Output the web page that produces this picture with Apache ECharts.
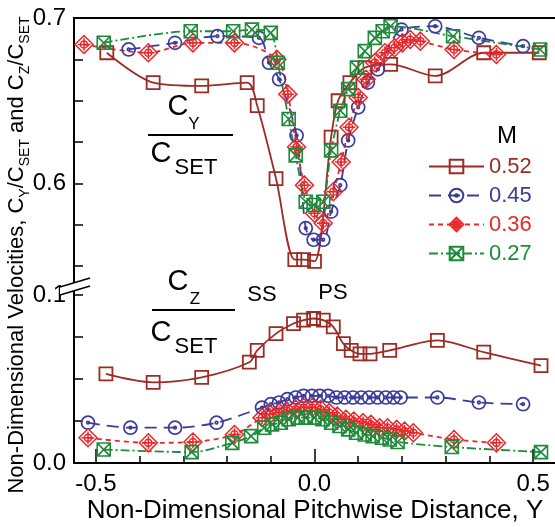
<!DOCTYPE html>
<html><head><meta charset="utf-8">
<script src="https://cdn.jsdelivr.net/npm/echarts@6/dist/echarts.min.js"></script>
<style>html,body{margin:0;padding:0;background:#fff}#c{width:555px;height:527px}</style>
</head><body><div id="c"></div>
<script>
// ---- data ----
const machLabels = ['0.52', '0.45', '0.36', '0.27'];

// Cy/CSET (upper panel)
const cyX_052 = [-0.475, -0.369, -0.258, -0.154, -0.131, -0.088, -0.045, -0.025, 0.000, 0.038, 0.054, 0.081, 0.115, 0.174, 0.276, 0.387, 0.514];
const cyY_052 = [0.679, 0.661, 0.659, 0.661, 0.647, 0.603, 0.554, 0.554, 0.553, 0.628, 0.650, 0.661, 0.670, 0.672, 0.665, 0.679, 0.679];

const cyX_045 = [-0.425, -0.319, -0.222, -0.127, -0.104, -0.081, -0.041, -0.020, -0.002, 0.020, 0.038, 0.059, 0.077, 0.100, 0.122, 0.145, 0.199, 0.276, 0.376, 0.477];
const cyY_045 = [0.681, 0.685, 0.689, 0.688, 0.673, 0.663, 0.629, 0.573, 0.566, 0.566, 0.583, 0.599, 0.626, 0.646, 0.661, 0.669, 0.693, 0.695, 0.688, 0.683];

const cyX_036 = [-0.527, -0.380, -0.278, -0.183, -0.086, -0.061, -0.041, -0.023, 0.000, 0.020, 0.043, 0.061, 0.079, 0.100, 0.118, 0.138, 0.161, 0.183, 0.201, 0.219, 0.242, 0.319, 0.416];
const cyY_036 = [0.684, 0.679, 0.685, 0.685, 0.675, 0.654, 0.622, 0.599, 0.582, 0.576, 0.595, 0.613, 0.634, 0.652, 0.663, 0.673, 0.679, 0.682, 0.685, 0.687, 0.686, 0.681, 0.678];

const cyX_027 = [-0.482, -0.283, -0.186, -0.143, -0.100, -0.084, -0.059, -0.043, -0.020, -0.002, 0.020, 0.038, 0.059, 0.077, 0.097, 0.115, 0.138, 0.156, 0.174, 0.317, 0.516];
const cyY_027 = [0.685, 0.692, 0.692, 0.693, 0.691, 0.673, 0.639, 0.617, 0.589, 0.587, 0.589, 0.620, 0.644, 0.657, 0.670, 0.680, 0.688, 0.692, 0.695, 0.689, 0.681];

// Cz/CSET (lower panel)
const czX_052 = [-0.477, -0.369, -0.258, -0.149, -0.131, -0.088, -0.048, -0.025, -0.002, 0.020, 0.043, 0.066, 0.084, 0.104, 0.127, 0.172, 0.281, 0.387, 0.518];
const czY_052 = [0.053, 0.048, 0.051, 0.060, 0.067, 0.077, 0.083, 0.085, 0.086, 0.085, 0.081, 0.071, 0.067, 0.065, 0.065, 0.067, 0.073, 0.066, 0.058];

const czX_045 = [-0.518, -0.421, -0.319, -0.224, -0.120, -0.100, -0.081, -0.062, -0.043, -0.025, -0.006, 0.012, 0.031, 0.050, 0.069, 0.088, 0.107, 0.125, 0.144, 0.163, 0.181, 0.197, 0.281, 0.376, 0.477];
const czY_045 = [0.024, 0.021, 0.021, 0.024, 0.033, 0.035, 0.036, 0.038, 0.039, 0.040, 0.040, 0.040, 0.040, 0.039, 0.039, 0.039, 0.039, 0.039, 0.039, 0.039, 0.039, 0.039, 0.039, 0.036, 0.035];

const czX_036 = [-0.518, -0.380, -0.278, -0.183, -0.120, -0.102, -0.081, -0.063, -0.043, -0.025, -0.005, 0.014, 0.034, 0.052, 0.072, 0.090, 0.111, 0.129, 0.149, 0.167, 0.188, 0.206, 0.226, 0.319, 0.416];
const czY_036 = [0.015, 0.012, 0.0125, 0.017, 0.027, 0.029, 0.030, 0.031, 0.032, 0.033, 0.033, 0.032, 0.030, 0.028, 0.026, 0.025, 0.024, 0.023, 0.021, 0.021, 0.020, 0.019, 0.018, 0.014, 0.012];

const czX_027 = [-0.482, -0.281, -0.188, -0.145, -0.115, -0.097, -0.077, -0.059, -0.038, -0.020, 0.000, 0.018, 0.038, 0.057, 0.077, 0.095, 0.115, 0.133, 0.154, 0.172, 0.190, 0.314, 0.518];
const czY_027 = [0.008, 0.0065, 0.012, 0.016, 0.021, 0.023, 0.024, 0.026, 0.027, 0.027, 0.027, 0.026, 0.024, 0.022, 0.020, 0.018, 0.017, 0.016, 0.015, 0.014, 0.0125, 0.0095, 0.0065];

// axis ticks / labels
const xMajor = [-0.5, 0.0, 0.5];
const xMinor = [-0.4, -0.3, -0.2, -0.1, 0.1, 0.2, 0.3, 0.4];
const yUpperTicks = [0.55, 0.575, 0.6, 0.625, 0.65, 0.675, 0.7];
const yUpperLabels = [0.6, 0.7];
const yLowerTicks = [0, 0.025, 0.05, 0.075, 0.1];
const yLowerLabels = [0, 0.1];

// ---- styling ----
const F = '"Liberation Sans", Arial, sans-serif';
const colors = ['#9C2B23', '#3B3B9C', '#E8282B', '#1E8B3A'];
const lineTypes = ['solid', [12, 7], [5, 4], [9, 3, 2, 3]];
const symbols = [
  'path://M0,0L20,0L20,20L0,20Z',
  'path://M10,0A10,10,0,1,1,10,20A10,10,0,1,1,10,0Z M10,8A2,2,0,1,1,10,12A2,2,0,1,1,10,8Z',
  'path://M10,0L20,10L10,20L0,10Z M10,3L10,17 M3,10L17,10 M10,6A4,4,0,1,1,10,14A4,4,0,1,1,10,6Z',
  'path://M0,0L20,0L20,20L0,20Z M0,0L20,20 M20,0L0,20'
];
const symSizes = [13, 13, 18, 13];
const symBorder = [1.8, 1.7, 1.5, 1.6];

const zip = (xs, ys) => xs.map((x, i) => [x, ys[i]]);
const upper = [zip(cyX_052, cyY_052), zip(cyX_045, cyY_045), zip(cyX_036, cyY_036), zip(cyX_027, cyY_027)];
const lower = [zip(czX_052, czY_052), zip(czX_045, czY_045), zip(czX_036, czY_036), zip(czX_027, czY_027)];

function mk(i, data, xi, yi) {
  return {
    name: machLabels[i], type: 'line', xAxisIndex: xi, yAxisIndex: yi, data: data,
    smooth: 0.3, clip: false,
    symbol: symbols[i], symbolSize: symSizes[i],
    itemStyle: { color: 'rgba(255,255,255,0)', borderColor: colors[i], borderWidth: symBorder[i] },
    lineStyle: { color: colors[i], width: 1.8, type: lineTypes[i] },
    emphasis: { disabled: true }, z: 3
  };
}
const series = [];
for (let i = 0; i < 4; i++) series.push(mk(i, upper[i], 0, 0));
for (let i = 0; i < 4; i++) series.push(mk(i, lower[i], 1, 1));

const axisLine = { show: true, onZero: false, lineStyle: { color: '#000', width: 2 } };
const fmt = v => Number(v).toFixed(1);

const chart = echarts.init(document.getElementById('c'), null, { renderer: 'canvas' });
chart.setOption({
  animation: false,
  backgroundColor: '#fff',
  grid: [
    { left: 74, top: 18, width: 486, height: 269 },
    { left: 74, top: 291, width: 486, height: 172 }
  ],
  xAxis: [
    { gridIndex: 0, type: 'value', min: -0.55, max: 0.55, position: 'top', axisLine: axisLine,
      axisTick: { show: false }, axisLabel: { show: false }, splitLine: { show: false } },
    { gridIndex: 1, type: 'value', min: -0.55, max: 0.55, position: 'bottom', axisLine: axisLine,
      axisTick: { show: true, inside: true, length: 14, customValues: xMajor, lineStyle: { color: '#000', width: 1.5 } },
      axisLabel: { show: true, customValues: xMajor, formatter: fmt, fontSize: 24, fontFamily: F, color: '#000', margin: 9 },
      splitLine: { show: false } },
    { gridIndex: 1, type: 'value', min: -0.55, max: 0.55, position: 'bottom', axisLine: { show: false },
      axisTick: { show: true, inside: true, length: 7, customValues: xMinor, lineStyle: { color: '#000', width: 1.5 } },
      axisLabel: { show: false }, splitLine: { show: false } }
  ],
  yAxis: [
    { gridIndex: 0, type: 'value', min: 0.53746, max: 0.7, axisLine: axisLine,
      axisTick: { show: true, inside: true, length: 9, customValues: yUpperTicks, lineStyle: { color: '#000', width: 1.5 } },
      axisLabel: { show: true, customValues: yUpperLabels, formatter: fmt, fontSize: 24, fontFamily: F, color: '#000', margin: 8 },
      splitLine: { show: false } },
    { gridIndex: 1, type: 'value', min: 0, max: 0.10238, axisLine: axisLine,
      axisTick: { show: true, inside: true, length: 9, customValues: yLowerTicks, lineStyle: { color: '#000', width: 1.5 } },
      axisLabel: { show: true, customValues: yLowerLabels, formatter: fmt, fontSize: 24, fontFamily: F, color: '#000', margin: 8 },
      splitLine: { show: false } }
  ],
  legend: {
    orient: 'vertical', left: 428, top: 152, itemWidth: 55, itemHeight: 17, itemGap: 0,
    selectedMode: false, padding: 0,
    textStyle: { fontSize: 22, fontFamily: F, lineHeight: 29 },
    data: machLabels.map((n, i) => ({ name: n, textStyle: { color: colors[i] } }))
  },
  graphic: [
    // axis break marker
    { type: 'polygon', shape: { points: [[60, 287], [90, 278], [90, 286], [60, 295]] }, style: { fill: '#fff' }, z: 100 },
    { type: 'line', shape: { x1: 60, y1: 287, x2: 90, y2: 278 }, style: { stroke: '#000', lineWidth: 1.5 }, z: 101 },
    { type: 'line', shape: { x1: 60, y1: 295, x2: 90, y2: 286 }, style: { stroke: '#000', lineWidth: 1.5 }, z: 101 },
    // titles
    { type: 'text', x: 315, y: 511, style: { text: 'Non-Dimensional Pitchwise Distance, Y', font: '26px ' + F, fill: '#000', align: 'center', verticalAlign: 'middle' } },
    { type: 'text', x: 17, y: 255, rotation: Math.PI / 2,
      style: { text: '{n|Non-Dimensional Velocities, C}{s|Y}{n|/C}{s|SET}{n| and C}{s|Z}{n|/C}{s|SET}',
        align: 'center', verticalAlign: 'middle', fill: '#000',
        rich: { n: { fontSize: 22, fontFamily: F, lineHeight: 30, verticalAlign: 'middle', fill: '#000' },
                s: { fontSize: 14, fontFamily: F, lineHeight: 14, verticalAlign: 'bottom', fill: '#000' } } } },
    { type: 'text', x: 507, y: 136, style: { text: 'M', font: '24px ' + F, fill: '#000', align: 'center', verticalAlign: 'middle' } },
    // Cy / CSET label
    { type: 'text', x: 178, y: 107, style: { text: 'C', font: '29px ' + F, fill: '#000', align: 'center', verticalAlign: 'middle' } },
    { type: 'text', x: 194, y: 124, style: { text: 'Y', font: '17px ' + F, fill: '#000', align: 'center', verticalAlign: 'middle' } },
    { type: 'line', shape: { x1: 148, y1: 135, x2: 233, y2: 135 }, style: { stroke: '#000', lineWidth: 2 } },
    { type: 'text', x: 161, y: 154, style: { text: 'C', font: '29px ' + F, fill: '#000', align: 'center', verticalAlign: 'middle' } },
    { type: 'text', x: 196, y: 168, style: { text: 'SET', font: '22px ' + F, fill: '#000', align: 'center', verticalAlign: 'middle' } },
    // Cz / CSET label
    { type: 'text', x: 178, y: 282, style: { text: 'C', font: '29px ' + F, fill: '#000', align: 'center', verticalAlign: 'middle' } },
    { type: 'text', x: 195, y: 299, style: { text: 'Z', font: '17px ' + F, fill: '#000', align: 'center', verticalAlign: 'middle' } },
    { type: 'line', shape: { x1: 152, y1: 310, x2: 235, y2: 310 }, style: { stroke: '#000', lineWidth: 2 } },
    { type: 'text', x: 161, y: 333, style: { text: 'C', font: '29px ' + F, fill: '#000', align: 'center', verticalAlign: 'middle' } },
    { type: 'text', x: 196, y: 347, style: { text: 'SET', font: '22px ' + F, fill: '#000', align: 'center', verticalAlign: 'middle' } },
    // SS / PS
    { type: 'text', x: 262, y: 295, style: { text: 'SS', font: '22px ' + F, fill: '#000', align: 'center', verticalAlign: 'middle' } },
    { type: 'text', x: 333, y: 293, style: { text: 'PS', font: '22px ' + F, fill: '#000', align: 'center', verticalAlign: 'middle' } }
  ],
  series: series
});
</script>
</body></html>
